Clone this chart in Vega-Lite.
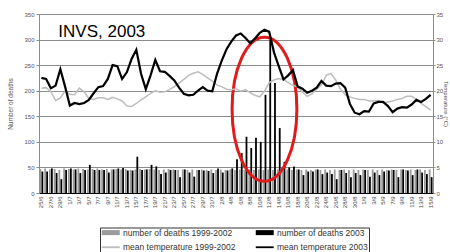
{
  "$schema": "https://vega.github.io/schema/vega-lite/v6.json",
  "width": 394,
  "height": 179,
  "autosize": {"type": "none"},
  "padding": {"left": 39, "top": 14, "right": 17, "bottom": 59},
  "background": "white",
  "config": {
    "font": "Liberation Sans",
    "view": {"stroke": null},
    "axis": {"labelFont": "Liberation Sans", "titleFont": "Liberation Sans"}
  },
  "data": {
    "values": [
      {"date": "25/6", "d9902": 47, "d03": 42, "t9902": 20.5, "t03": 22.5},
      {"date": "26/6", "d9902": 48, "d03": 42, "t9902": 20.6, "t03": 22.3},
      {"date": "27/6", "d9902": 46, "d03": 48, "t9902": 19.8, "t03": 20.5},
      {"date": "28/6", "d9902": 47, "d03": 39, "t9902": 18.1, "t03": 21.0},
      {"date": "29/6", "d9902": 45, "d03": 27, "t9902": 18.6, "t03": 24.2},
      {"date": "30/6", "d9902": 48, "d03": 45, "t9902": 20.0, "t03": 20.8},
      {"date": "1/7", "d9902": 47, "d03": 48, "t9902": 19.3, "t03": 17.1},
      {"date": "2/7", "d9902": 46, "d03": 46, "t9902": 19.2, "t03": 17.6},
      {"date": "3/7", "d9902": 48, "d03": 39, "t9902": 20.5, "t03": 17.4},
      {"date": "4/7", "d9902": 47, "d03": 45, "t9902": 19.8, "t03": 17.6},
      {"date": "5/7", "d9902": 46, "d03": 55, "t9902": 18.5, "t03": 18.2},
      {"date": "6/7", "d9902": 47, "d03": 45, "t9902": 18.3, "t03": 19.5},
      {"date": "7/7", "d9902": 48, "d03": 45, "t9902": 18.6, "t03": 20.7},
      {"date": "8/7", "d9902": 46, "d03": 45, "t9902": 18.6, "t03": 20.9},
      {"date": "9/7", "d9902": 47, "d03": 40, "t9902": 18.3, "t03": 22.3},
      {"date": "10/7", "d9902": 46, "d03": 46, "t9902": 18.7, "t03": 25.0},
      {"date": "11/7", "d9902": 47, "d03": 48, "t9902": 18.4, "t03": 24.8},
      {"date": "12/7", "d9902": 46, "d03": 49, "t9902": 18.0, "t03": 22.3},
      {"date": "13/7", "d9902": 47, "d03": 44, "t9902": 17.0, "t03": 23.6},
      {"date": "14/7", "d9902": 45, "d03": 44, "t9902": 16.9, "t03": 26.2},
      {"date": "15/7", "d9902": 46, "d03": 71, "t9902": 17.5, "t03": 28.0},
      {"date": "16/7", "d9902": 47, "d03": 45, "t9902": 18.2, "t03": 23.3},
      {"date": "17/7", "d9902": 46, "d03": 46, "t9902": 18.8, "t03": 20.3},
      {"date": "18/7", "d9902": 47, "d03": 55, "t9902": 19.5, "t03": 23.0},
      {"date": "19/7", "d9902": 46, "d03": 52, "t9902": 20.0, "t03": 26.0},
      {"date": "20/7", "d9902": 45, "d03": 37, "t9902": 19.7, "t03": 23.8},
      {"date": "21/7", "d9902": 46, "d03": 40, "t9902": 19.8, "t03": 23.7},
      {"date": "22/7", "d9902": 47, "d03": 45, "t9902": 20.2, "t03": 22.9},
      {"date": "23/7", "d9902": 46, "d03": 45, "t9902": 20.8, "t03": 22.0},
      {"date": "24/7", "d9902": 45, "d03": 31, "t9902": 21.5, "t03": 20.6},
      {"date": "25/7", "d9902": 46, "d03": 46, "t9902": 22.2, "t03": 19.4},
      {"date": "26/7", "d9902": 45, "d03": 40, "t9902": 23.0, "t03": 19.1},
      {"date": "27/7", "d9902": 46, "d03": 32, "t9902": 23.4, "t03": 19.2},
      {"date": "28/7", "d9902": 45, "d03": 45, "t9902": 23.7, "t03": 20.0},
      {"date": "29/7", "d9902": 46, "d03": 44, "t9902": 23.2, "t03": 20.7},
      {"date": "30/7", "d9902": 45, "d03": 43, "t9902": 22.5, "t03": 20.0},
      {"date": "31/7", "d9902": 46, "d03": 39, "t9902": 21.9, "t03": 19.9},
      {"date": "1/8", "d9902": 45, "d03": 48, "t9902": 21.1, "t03": 23.3},
      {"date": "2/8", "d9902": 46, "d03": 40, "t9902": 20.8, "t03": 25.9},
      {"date": "3/8", "d9902": 45, "d03": 44, "t9902": 20.3, "t03": 28.1},
      {"date": "4/8", "d9902": 46, "d03": 48, "t9902": 20.2, "t03": 29.6},
      {"date": "5/8", "d9902": 45, "d03": 66, "t9902": 20.4, "t03": 30.8},
      {"date": "6/8", "d9902": 46, "d03": 78, "t9902": 19.9, "t03": 31.2},
      {"date": "7/8", "d9902": 45, "d03": 110, "t9902": 20.2, "t03": 30.3},
      {"date": "8/8", "d9902": 46, "d03": 88, "t9902": 19.6, "t03": 29.3},
      {"date": "9/8", "d9902": 45, "d03": 108, "t9902": 19.1, "t03": 30.2},
      {"date": "10/8", "d9902": 46, "d03": 100, "t9902": 18.8, "t03": 31.3},
      {"date": "11/8", "d9902": 45, "d03": 192, "t9902": 19.9, "t03": 31.9},
      {"date": "12/8", "d9902": 46, "d03": 300, "t9902": 21.6, "t03": 31.5},
      {"date": "13/8", "d9902": 45, "d03": 215, "t9902": 22.1, "t03": 27.5},
      {"date": "14/8", "d9902": 46, "d03": 127, "t9902": 22.4, "t03": 24.8},
      {"date": "15/8", "d9902": 45, "d03": 61, "t9902": 22.2, "t03": 22.2},
      {"date": "16/8", "d9902": 46, "d03": 50, "t9902": 21.6, "t03": 23.0},
      {"date": "17/8", "d9902": 45, "d03": 52, "t9902": 21.0, "t03": 24.0},
      {"date": "18/8", "d9902": 46, "d03": 46, "t9902": 20.8, "t03": 20.8},
      {"date": "19/8", "d9902": 45, "d03": 35, "t9902": 19.7, "t03": 20.4},
      {"date": "20/8", "d9902": 46, "d03": 42, "t9902": 18.9, "t03": 19.6},
      {"date": "21/8", "d9902": 45, "d03": 42, "t9902": 19.4, "t03": 20.0},
      {"date": "22/8", "d9902": 46, "d03": 46, "t9902": 20.3, "t03": 20.6},
      {"date": "23/8", "d9902": 45, "d03": 37, "t9902": 21.1, "t03": 21.9},
      {"date": "24/8", "d9902": 46, "d03": 40, "t9902": 23.0, "t03": 21.0},
      {"date": "25/8", "d9902": 45, "d03": 37, "t9902": 23.4, "t03": 20.9},
      {"date": "26/8", "d9902": 46, "d03": 27, "t9902": 22.1, "t03": 21.4},
      {"date": "27/8", "d9902": 45, "d03": 45, "t9902": 20.3, "t03": 21.5},
      {"date": "28/8", "d9902": 46, "d03": 39, "t9902": 19.2, "t03": 20.6},
      {"date": "29/8", "d9902": 45, "d03": 31, "t9902": 18.8, "t03": 17.4},
      {"date": "30/8", "d9902": 46, "d03": 39, "t9902": 18.5, "t03": 15.7},
      {"date": "31/8", "d9902": 45, "d03": 35, "t9902": 18.3, "t03": 15.4},
      {"date": "1/9", "d9902": 46, "d03": 45, "t9902": 18.3, "t03": 16.0},
      {"date": "2/9", "d9902": 45, "d03": 32, "t9902": 18.0, "t03": 15.9},
      {"date": "3/9", "d9902": 46, "d03": 40, "t9902": 18.0, "t03": 17.5},
      {"date": "4/9", "d9902": 45, "d03": 35, "t9902": 18.1, "t03": 17.8},
      {"date": "5/9", "d9902": 46, "d03": 42, "t9902": 17.6, "t03": 17.8},
      {"date": "6/9", "d9902": 45, "d03": 44, "t9902": 17.8, "t03": 17.0},
      {"date": "7/9", "d9902": 46, "d03": 45, "t9902": 18.0, "t03": 15.8},
      {"date": "8/9", "d9902": 45, "d03": 31, "t9902": 18.3, "t03": 16.5},
      {"date": "9/9", "d9902": 46, "d03": 46, "t9902": 18.5, "t03": 16.8},
      {"date": "10/9", "d9902": 45, "d03": 44, "t9902": 18.9, "t03": 16.7},
      {"date": "11/9", "d9902": 46, "d03": 35, "t9902": 18.9, "t03": 17.3},
      {"date": "12/9", "d9902": 45, "d03": 46, "t9902": 18.3, "t03": 18.2},
      {"date": "13/9", "d9902": 46, "d03": 40, "t9902": 17.5, "t03": 17.8},
      {"date": "14/9", "d9902": 45, "d03": 37, "t9902": 16.9, "t03": 18.4},
      {"date": "15/9", "d9902": 46, "d03": 31, "t9902": 16.2, "t03": 19.2}
    ]
  },
  "layer": [
    {
      "layer": [
        {
          "transform": [{"fold": ["d9902", "d03"], "as": ["s", "deaths"]}],
          "mark": {"type": "bar"},
          "encoding": {
            "x": {
              "field": "date", "type": "ordinal", "sort": null,
              "scale": {"paddingInner": 0.2, "paddingOuter": 0.1},
              "axis": {
                "title": null, "labelAngle": 270, "labelFontSize": 6, "labelColor": "#444",
                "ticks": false, "domainColor": "#000", "labelPadding": 3,
                "values": ["25/6","27/6","29/6","1/7","3/7","5/7","7/7","9/7","11/7","13/7","15/7","17/7","19/7","21/7","23/7","25/7","27/7","29/7","31/7","2/8","4/8","6/8","8/8","10/8","12/8","14/8","16/8","18/8","20/8","22/8","24/8","26/8","28/8","30/8","1/9","3/9","5/9","7/9","9/9","11/9","13/9","15/9"]
              }
            },
            "xOffset": {"field": "s", "type": "nominal", "sort": ["d9902", "d03"], "scale": {"paddingInner": 0.1}},
            "y": {
              "field": "deaths", "type": "quantitative",
              "scale": {"domain": [0, 350], "nice": false},
              "axis": {
                "title": "Number of deaths", "values": [0,50,100,150,200,250,300,350],
                "labelOverlap": false,
                "grid": true, "gridColor": "#8c8c8c", "gridWidth": 1,
                "domainColor": "#8c8c8c", "tickColor": "#8c8c8c", "tickSize": 3,
                "labelFontSize": 6, "labelColor": "#555", "labelPadding": 2,
                "titleFontSize": 6.5, "titleFontWeight": "normal", "titleColor": "#555", "titlePadding": 10
              }
            },
            "color": {
              "field": "s", "type": "nominal",
              "scale": {"domain": ["d9902", "d03", "t9902", "t03"], "range": ["#9a9a9a", "#000000", "#bdbdbd", "#000000"]},
              "legend": {
                "title": null, "orient": "none", "direction": "horizontal", "legendX": 61, "legendY": 213.5,
                "columns": 2, "padding": 0.5, "strokeColor": "#333",
                "symbolType": "M-1,0H5", "symbolSize": 36, "labelOffset": 14,
                "labelFontSize": 8.5, "labelColor": "#333", "rowPadding": 0, "columnPadding": 10,
                "labelExpr": "datum.value == 'd9902' ? 'number of deaths 1999-2002' : datum.value == 'd03' ? 'number of deaths 2003' : datum.value == 't9902' ? 'mean temperature 1999-2002' : 'mean temperature 2003'",
                "encode": {
                  "symbols": {
                    "update": {
                      "stroke": {"scale": "color", "field": "value"},
                      "fill": {"value": "transparent"},
                      "strokeWidth": {"signal": "datum.value == 'd9902' || datum.value == 'd03' ? 5 : 1.8"}
                    }
                  }
                }
              }
            }
          }
        },
        {
          "transform": [{"filter": "datum.date == '11/8'"}],
          "mark": {"type": "point", "shape": "M0,-1A0.45,1 0 1,1 0,1A0.45,1 0 1,1 0,-1Z", "size": 20736, "filled": false, "stroke": "#e01b1b", "strokeWidth": 3, "fill": null, "opacity": 1},
          "encoding": {
            "x": {"field": "date", "type": "ordinal", "sort": null},
            "y": {
              "datum": 164,
              "axis": {
                "title": "Number of deaths", "values": [0,50,100,150,200,250,300,350],
                "labelOverlap": false,
                "grid": true, "gridColor": "#8c8c8c", "gridWidth": 1,
                "domainColor": "#8c8c8c", "tickColor": "#8c8c8c", "tickSize": 3,
                "labelFontSize": 6, "labelColor": "#555", "labelPadding": 2,
                "titleFontSize": 6.5, "titleFontWeight": "normal", "titleColor": "#555", "titlePadding": 10
              }
            }
          }
        },
        {
          "transform": [{"filter": "datum.date == '29/6'"}],
          "mark": {"type": "text", "text": "INVS, 2003", "align": "left", "baseline": "alphabetic", "fontSize": 17, "font": "Liberation Sans", "color": "#000", "dx": -2},
          "encoding": {
            "x": {"field": "date", "type": "ordinal", "sort": null},
            "y": {
              "datum": 305,
              "axis": {
                "title": "Number of deaths", "values": [0,50,100,150,200,250,300,350],
                "labelOverlap": false,
                "grid": true, "gridColor": "#8c8c8c", "gridWidth": 1,
                "domainColor": "#8c8c8c", "tickColor": "#8c8c8c", "tickSize": 3,
                "labelFontSize": 6, "labelColor": "#555", "labelPadding": 2,
                "titleFontSize": 6.5, "titleFontWeight": "normal", "titleColor": "#555", "titlePadding": 10
              }
            }
          }
        }
      ]
    },
    {
      "transform": [{"fold": ["t9902", "t03"], "as": ["s", "temp"]}],
      "mark": {"type": "line", "interpolate": "linear"},
      "encoding": {
        "x": {"field": "date", "type": "ordinal", "sort": null, "bandPosition": 0.5},
        "y": {
          "field": "temp", "type": "quantitative",
          "scale": {"domain": [0, 35], "nice": false},
          "axis": {
            "orient": "right", "title": "Temperature (°C)", "values": [0,5,10,15,20,25,30,35],
            "labelOverlap": false,
            "grid": false, "domainColor": "#8c8c8c", "tickColor": "#8c8c8c", "tickSize": 2,
            "labelFontSize": 6, "labelColor": "#555", "labelPadding": 1,
            "titleFontSize": 6, "titleFontWeight": "normal", "titleColor": "#555", "titlePadding": 0
          }
        },
        "color": {"field": "s", "type": "nominal"},
        "strokeWidth": {"field": "s", "type": "ordinal", "scale": {"domain": ["t9902", "t03"], "range": [1.5, 2.2]}, "legend": null}
      }
    }
  ],
  "resolve": {"scale": {"y": "independent"}}
}
